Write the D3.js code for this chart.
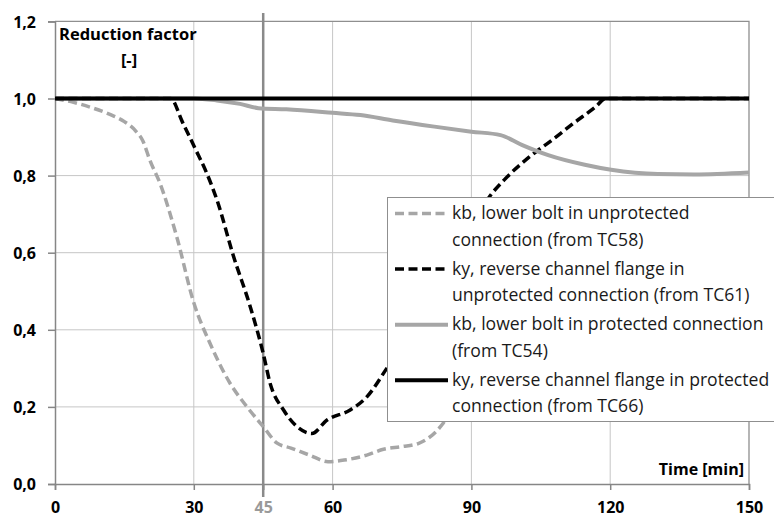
<!DOCTYPE html>
<html>
<head>
<meta charset="utf-8">
<script src="https://cdn.jsdelivr.net/npm/d3@7"></script>
<style>
	body { margin: 0; background: #fff; }
	text { font-family: "Open Sans", Lato, sans-serif; }
</style>
</head>
<body>
<script>
(function () {
	"use strict";

	// time [min], reduction factor [-]
	let kbUnprotected = [
		[0, 1.0], [4, 0.99], [8, 0.976], [12, 0.958], [15, 0.94], [17.5, 0.915], [19, 0.89],
		[20.5, 0.84], [22.7, 0.78], [26.3, 0.642], [30, 0.47], [33.5, 0.365], [37.8, 0.262],
		[41.5, 0.2], [45, 0.149], [48, 0.106], [51, 0.093], [55, 0.075], [59, 0.058],
		[62.5, 0.062], [67.4, 0.075], [71, 0.09], [75, 0.097], [78.5, 0.105], [83.6, 0.153],
		[90, 0.3], [96, 0.5]
	];
	let kyUnprotected = [
		[0, 1.0], [25, 1.0], [27.5, 0.94], [30.3, 0.87], [32.8, 0.806], [35, 0.737],
		[38.6, 0.59], [42.2, 0.46], [45, 0.339], [46.5, 0.261], [49.4, 0.192], [52.3, 0.149],
		[55.5, 0.131], [58.8, 0.166], [63.8, 0.192], [67.4, 0.226], [71.7, 0.3], [80, 0.46],
		[88, 0.61], [93.9, 0.745], [97.1, 0.789], [102.6, 0.849], [107.4, 0.892],
		[112.1, 0.936], [116.9, 0.979], [119, 1.0], [150, 1.0]
	];
	let kbProtected = [
		[0, 1.0], [30, 1.0], [35, 0.995], [40, 0.986], [44, 0.975], [50, 0.972], [60, 0.963],
		[66, 0.957], [73, 0.943], [82, 0.927], [90, 0.914], [96.3, 0.905], [101, 0.879],
		[106.6, 0.853], [114.5, 0.828], [120.2, 0.815], [130.3, 0.804], [138.2, 0.803],
		[150, 0.808]
	];
	let kyProtected = [[0, 1.0], [150, 1.0]];

	let seriesNames = [
		["kb, lower bolt in unprotected", "connection (from TC58)"],
		["ky, reverse channel flange in", "unprotected connection (from TC61)"],
		["kb, lower bolt in protected connection", "(from TC54)"],
		["ky, reverse channel flange in protected", "connection (from TC66)"]
	];
	let xTicks = [0, 30, 45, 60, 90, 120, 150];
	let yTicks = [0, 0.2, 0.4, 0.6, 0.8, 1.0, 1.2];
	let markTime = 45;

	let w = 774;
	let h = 518;

	let styles = [
		{ color: '#a6a6a6', width: 3.5, dash: '9,4.5' },
		{ color: '#000000', width: 3.5, dash: '9,4.5' },
		{ color: '#a6a6a6', width: 4, dash: null },
		{ color: '#000000', width: 4, dash: null }
	];

	let x = d3.scaleLinear().domain([0, 150]).range([55, 749]);
	let y = d3.scaleLinear().domain([0, 1.2]).range([484, 21.4]);

	let svg = d3.select('body').append('svg').attr('width', w).attr('height', h);

	let comma = (d) => d3.format('.1f')(d).replace('.', ',');

	// gridlines
	svg.append('g').selectAll('line')
		.data(yTicks.filter((d) => d > 0 && d < 1.2))
		.enter().append('line')
		.attr('x1', x(0)).attr('x2', x(150))
		.attr('y1', (d) => y(d)).attr('y2', (d) => y(d))
		.attr('stroke', '#c6c6c6').attr('stroke-width', 1);
	svg.append('g').selectAll('line')
		.data(xTicks.filter((d) => d > 0 && d < 150 && d !== markTime))
		.enter().append('line')
		.attr('x1', (d) => x(d)).attr('x2', (d) => x(d))
		.attr('y1', y(0)).attr('y2', y(1.2))
		.attr('stroke', '#c6c6c6').attr('stroke-width', 1);

	// top and right border
	svg.append('path')
		.attr('d', 'M' + x(0) + ',' + y(1.2) + 'H' + x(150) + 'V' + y(0))
		.attr('fill', 'none').attr('stroke', '#8f8f8f').attr('stroke-width', 1.3);

	// axes
	let yAxis = svg.append('g')
		.attr('transform', 'translate(' + x(0) + ',0)')
		.call(d3.axisLeft(y).tickValues(yTicks).tickSize(7).tickPadding(12).tickFormat(comma));
	let xAxis = svg.append('g')
		.attr('transform', 'translate(0,' + y(0) + ')')
		.call(d3.axisBottom(x).tickValues(xTicks).tickSize(6).tickFormat(d3.format('d')));

	[yAxis, xAxis].forEach(function (a) {
		a.select('.domain').attr('stroke', '#868686').attr('stroke-width', 1.5);
		a.selectAll('.tick line').attr('stroke', '#868686').attr('stroke-width', 1.5);
		a.selectAll('.tick text')
			.attr('fill', '#000')
			.style('font-family', '"Open Sans", sans-serif')
			.style('font-size', '16px')
			.style('font-weight', 'bold');
	});
	yAxis.selectAll('.tick text').attr('dy', '0.36em');
	xAxis.selectAll('.tick text').attr('y', 29).attr('dy', 0)
		.attr('fill', (d) => d === markTime ? '#9a9a9a' : '#000');

	// 45 min marker
	svg.append('line')
		.attr('x1', x(markTime)).attr('x2', x(markTime))
		.attr('y1', 13).attr('y2', 497)
		.attr('stroke', '#8a8a8a').attr('stroke-width', 2.5);

	// series
	let line = d3.line()
		.x((d) => x(d[0]))
		.y((d) => y(d[1]))
		.curve(d3.curveMonotoneX);

	let allSeries = [kbUnprotected, kyUnprotected, kbProtected, kyProtected];
	allSeries.forEach(function (s, i) {
		svg.append('path')
			.datum(s)
			.attr('d', line)
			.attr('fill', 'none')
			.attr('stroke', styles[i].color)
			.attr('stroke-width', styles[i].width)
			.attr('stroke-dasharray', styles[i].dash)
			.attr('stroke-linejoin', 'round');
	});

	// titles
	svg.append('text').attr('x', 59).attr('y', 40)
		.style('font-size', '16.5px').style('font-weight', 'bold')
		.text('Reduction factor');
	svg.append('text').attr('x', 129).attr('y', 66).attr('text-anchor', 'middle')
		.style('font-size', '16.5px').style('font-weight', 'bold')
		.text('[-]');
	svg.append('text').attr('x', 744).attr('y', 475).attr('text-anchor', 'end')
		.style('font-size', '16px').style('font-weight', 'bold')
		.text('Time [min]');

	// legend
	let legend = svg.append('g');
	legend.append('rect')
		.attr('x', 387.5).attr('y', 197.5).attr('width', 400).attr('height', 224)
		.attr('fill', '#fff').attr('stroke', '#8f8f8f').attr('stroke-width', 1);

	let rows = legend.selectAll('g.row')
		.data(seriesNames)
		.enter().append('g')
		.attr('class', 'row')
		.attr('transform', (d, i) => 'translate(0,' + (213.5 + i * 55.6) + ')');

	rows.append('line')
		.attr('x1', 395).attr('x2', 448)
		.attr('y1', 0).attr('y2', 0)
		.attr('stroke', (d, i) => styles[i].color)
		.attr('stroke-width', (d, i) => styles[i].width)
		.attr('stroke-dasharray', (d, i) => styles[i].dash);

	rows.each(function (d) {
		let t = d3.select(this).append('text')
			.attr('y', 5.5)
			.attr('fill', '#1a1a1a')
			.style('font-size', '17.6px');
		d.forEach(function (s, k) {
			t.append('tspan').attr('x', 452).attr('dy', k === 0 ? 0 : 26.7).text(s);
		});
	});

})();
</script>
</body>
</html>
